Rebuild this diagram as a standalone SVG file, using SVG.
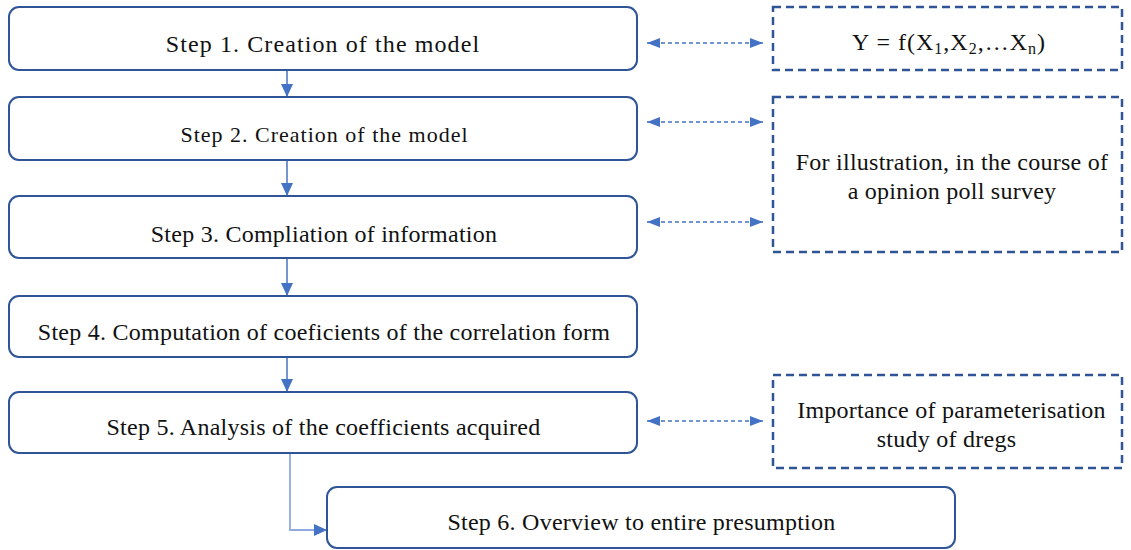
<svg xmlns="http://www.w3.org/2000/svg" width="1131" height="550" viewBox="0 0 1131 550">
<style>
.step{fill:#fff;stroke:#2F5597;stroke-width:2}
.note{fill:#fff;stroke:#2F5597;stroke-width:2.5;stroke-dasharray:8 5}
.t{font-family:'Liberation Serif',serif;font-size:24px;letter-spacing:0.25px;fill:#111;text-anchor:middle}
.flow{stroke:#4472C4;stroke-width:1.5;fill:none}
.flow2{stroke:#8FAADC;stroke-width:1.8;fill:none}
.dash{stroke:#4472C4;stroke-width:1.5;fill:none;stroke-dasharray:4 3}
</style>
<defs>
<marker id="ah" markerUnits="userSpaceOnUse" markerWidth="14" markerHeight="14" viewBox="0 0 14 14" refX="13" refY="7" orient="auto-start-reverse">
<path d="M0,1 L13,7 L0,13 Z" fill="#4472C4"/>
</marker>
<marker id="ahs" markerUnits="userSpaceOnUse" markerWidth="14" markerHeight="12" viewBox="0 0 14 12" refX="13" refY="6" orient="auto-start-reverse">
<path d="M0,1 L13,6 L0,11 Z" fill="#4472C4"/>
</marker>
</defs>
<rect width="1131" height="550" fill="#fff"/>
<g id="connectors">
<line class="flow" x1="287" y1="70" x2="287" y2="97" marker-end="url(#ah)"/>
<line class="flow" x1="287" y1="160" x2="287" y2="196" marker-end="url(#ah)"/>
<line class="flow" x1="287" y1="258" x2="287" y2="296" marker-end="url(#ah)"/>
<line class="flow" x1="287" y1="357" x2="287" y2="392" marker-end="url(#ah)"/>
<path class="flow2" d="M290,453 V530 H327" marker-end="url(#ah)"/>
<line class="dash" x1="647" y1="43" x2="763" y2="43" marker-start="url(#ahs)" marker-end="url(#ahs)"/>
<line class="dash" x1="647" y1="122" x2="763" y2="122" marker-start="url(#ahs)" marker-end="url(#ahs)"/>
<line class="dash" x1="647" y1="222" x2="763" y2="222" marker-start="url(#ahs)" marker-end="url(#ahs)"/>
<line class="dash" x1="647" y1="421" x2="763" y2="421" marker-start="url(#ahs)" marker-end="url(#ahs)"/>
</g>
<g id="step1">
<rect class="step" x="9" y="7" width="628" height="63" rx="10"/>
<text class="t" x="323" y="52" style="letter-spacing:1.1px">Step 1. Creation of the model</text>
</g>
<g id="step2">
<rect class="step" x="9" y="97" width="628" height="63" rx="10"/>
<text class="t" x="324.5" y="142" style="font-size:22px;letter-spacing:1px">Step 2. Creation of the model</text>
</g>
<g id="step3">
<rect class="step" x="9" y="196" width="628" height="62" rx="10"/>
<text class="t" x="324" y="242">Step 3. Compliation of information</text>
</g>
<g id="step4">
<rect class="step" x="9" y="296" width="628" height="61" rx="10"/>
<text class="t" x="324" y="340">Step 4. Computation of coeficients of the correlation form</text>
</g>
<g id="step5">
<rect class="step" x="9" y="392" width="628" height="61" rx="10"/>
<text class="t" x="323.5" y="435">Step 5. Analysis of the coefficients acquired</text>
</g>
<g id="step6">
<rect class="step" x="327" y="487" width="628" height="61" rx="10"/>
<text class="t" x="641.5" y="530">Step 6. Overview to entire presumption</text>
</g>
<g id="note1">
<rect class="note" x="773" y="7" width="349" height="63"/>
<text class="t" x="949" y="50" style="letter-spacing:1px">Y = f(X<tspan font-size="16" dy="4">1</tspan><tspan dy="-4">,X</tspan><tspan font-size="16" dy="4">2</tspan><tspan dy="-4">,…X</tspan><tspan font-size="16" dy="4">n</tspan><tspan dy="-4">)</tspan></text>
</g>
<g id="note2">
<rect class="note" x="773" y="97" width="349" height="155"/>
<text class="t" x="952" y="170">For illustration, in the course of</text>
<text class="t" x="952" y="199">a opinion poll survey</text>
</g>
<g id="note3">
<rect class="note" x="773" y="375" width="349" height="93"/>
<text class="t" x="951.5" y="418">Importance of parameterisation</text>
<text class="t" x="946.5" y="447">study of dregs</text>
</g>
</svg>
